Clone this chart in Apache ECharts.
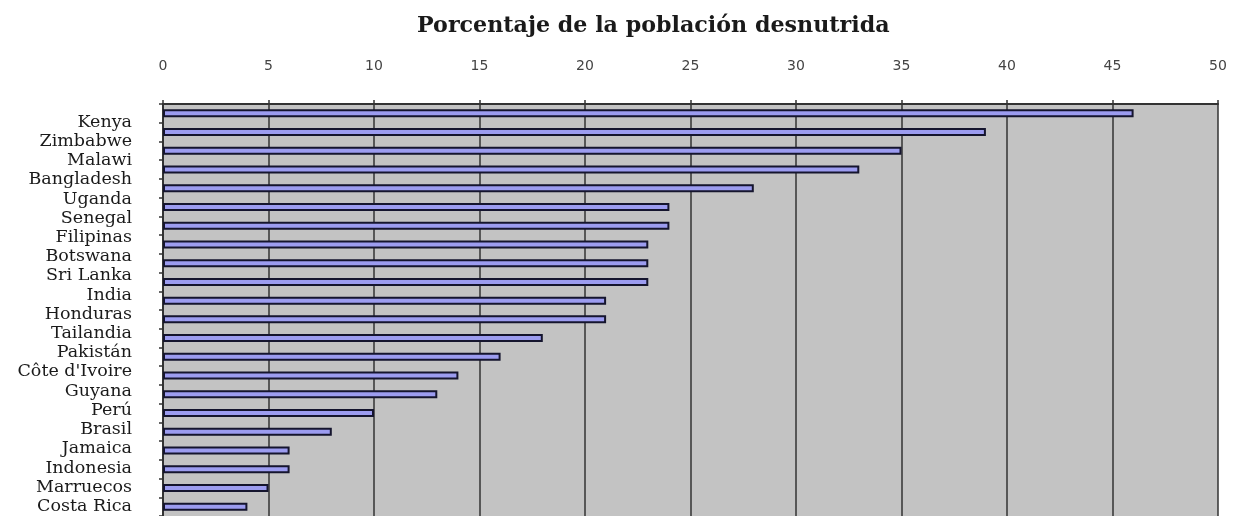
<!DOCTYPE html>
<html>
<head>
<meta charset="utf-8">
<script src="https://cdn.jsdelivr.net/npm/echarts@6/dist/echarts.min.js"></script>
<style>
html,body{margin:0;padding:0;background:#fff;}
#chart{width:1238px;height:516px;}
</style>
</head>
<body>
<div id="chart"></div>
<script>
const chartTitle = 'Porcentaje de la población desnutrida';
const countries = ['Kenya','Zimbabwe','Malawi','Bangladesh','Uganda','Senegal','Filipinas','Botswana','Sri Lanka','India','Honduras','Tailandia','Pakistán',"Côte d'Ivoire",'Guyana','Perú','Brasil','Jamaica','Indonesia','Marruecos','Costa Rica'];
const values = [46,39,35,33,28,24,24,23,23,23,21,21,18,16,14,13,10,8,6,6,5,4];
const xTicks = [0,5,10,15,20,25,30,35,40,45,50];

const barSlots = values.map((v, i) => countries[i] !== undefined ? countries[i] : '');

const chart = echarts.init(document.getElementById('chart'), null, {renderer: 'canvas'});
chart.setOption({
  animation: false,
  backgroundColor: '#ffffff',
  title: {
    text: chartTitle,
    left: 412,
    top: 10,
    textStyle: {fontFamily: 'DejaVu Serif', fontSize: 22.2, fontWeight: 'bold', color: '#1a1a1a'}
  },
  grid: [
    {left: 163, right: 20, top: 104, height: 413.6, show: true, backgroundColor: '#c3c3c3', borderWidth: 0},
    {left: 163, right: 20, top: 112.5, height: 409.5, show: false}
  ],
  xAxis: [
    {
      gridIndex: 0, type: 'value', position: 'top',
      min: xTicks[0], max: xTicks[xTicks.length - 1], interval: xTicks[1] - xTicks[0],
      axisLine: {show: true, lineStyle: {color: '#333', width: 2}},
      axisTick: {show: true, inside: false, length: 4, lineStyle: {color: '#333', width: 1.5}},
      axisLabel: {margin: 31, color: '#444', fontFamily: 'DejaVu Sans', fontSize: 14},
      splitLine: {show: true, lineStyle: {color: '#333', width: 1.5}}
    },
    {gridIndex: 1, type: 'value', min: 0, max: 50, show: false}
  ],
  yAxis: [
    {
      gridIndex: 0, type: 'category', inverse: true, data: barSlots,
      axisLine: {show: true, lineStyle: {color: '#333', width: 2}},
      axisTick: {show: true, inside: false, length: 4, interval: 0, lineStyle: {color: '#333', width: 1.5}},
      axisLabel: {show: false},
      splitLine: {show: false}
    },
    {
      gridIndex: 1, type: 'category', inverse: true, data: countries,
      axisLine: {show: false}, axisTick: {show: false},
      axisLabel: {show: true, interval: 0, margin: 31, color: '#1a1a1a', fontFamily: 'DejaVu Serif', fontSize: 17.5},
      splitLine: {show: false}
    }
  ],
  series: [{
    type: 'bar',
    xAxisIndex: 0, yAxisIndex: 0,
    data: values,
    barWidth: 8,
    itemStyle: {color: '#9c9cf0', borderColor: '#15152e', borderWidth: 2}
  }]
});
</script>
</body>
</html>
